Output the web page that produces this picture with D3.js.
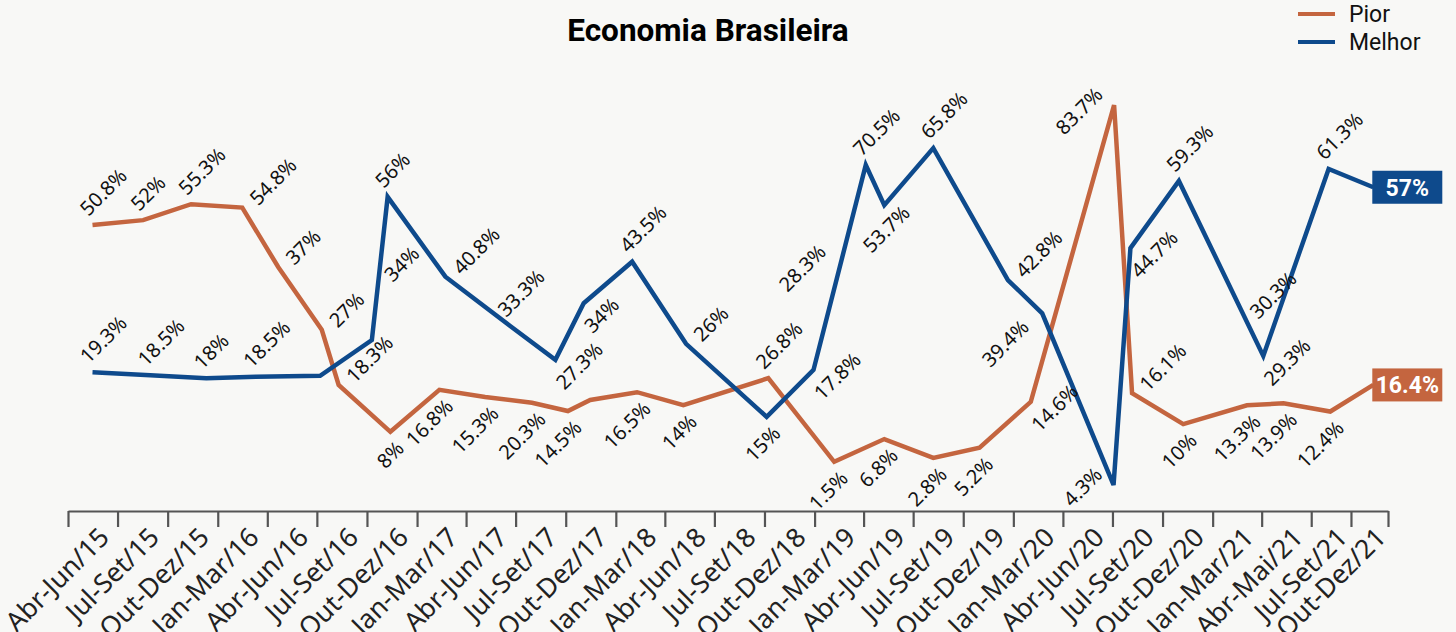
<!DOCTYPE html>
<html>
<head>
<meta charset="utf-8">
<script src="https://cdn.jsdelivr.net/npm/d3@7"></script>
<style>
  html, body { margin: 0; padding: 0; background: #f8f8f6; }
  svg { display: block; }
</style>
</head>
<body>
<div id="chart"></div>
<script>
// periods shown under the axis and the boundaries between them
var periods = ["Abr-Jun/15", "Jul-Set/15", "Out-Dez/15", "Jan-Mar/16", "Abr-Jun/16", "Jul-Set/16",
  "Out-Dez/16", "Jan-Mar/17", "Abr-Jun/17", "Jul-Set/17", "Out-Dez/17", "Jan-Mar/18", "Abr-Jun/18",
  "Jul-Set/18", "Out-Dez/18", "Jan-Mar/19", "Abr-Jun/19", "Jul-Set/19", "Out-Dez/19", "Jan-Mar/20",
  "Abr-Jun/20", "Jul-Set/20", "Out-Dez/20", "Jan-Mar/21", "Abr-Mai/21", "Jul-Set/21", "Out-Dez/21"];
var tickDates = ["2015-04-01", "2015-07-01", "2015-10-01", "2016-01-01", "2016-04-01", "2016-07-01",
  "2016-10-01", "2017-01-01", "2017-04-01", "2017-07-01", "2017-10-01", "2018-01-01", "2018-04-01",
  "2018-07-01", "2018-10-01", "2019-01-01", "2019-04-01", "2019-07-01", "2019-10-01", "2020-01-01",
  "2020-04-01", "2020-07-01", "2020-10-01", "2021-01-01", "2021-04-01", "2021-07-01", "2021-09-12",
  "2021-11-19"];

// Pior (worse)
var piorDates = ["2015-05-16", "2015-08-17", "2015-11-13", "2016-02-15", "2016-04-21", "2016-07-10",
  "2016-08-10", "2016-11-13", "2017-02-11", "2017-05-06", "2017-07-31", "2017-10-05", "2017-11-15",
  "2018-02-09", "2018-05-05", "2018-10-08", "2019-02-06", "2019-05-09", "2019-08-07", "2019-10-31",
  "2020-02-02", "2020-07-04", "2020-08-06", "2020-11-08", "2021-03-05", "2021-05-11", "2021-08-05",
  "2021-10-23"];
var piorValues = [50.7, 51.7, 55.0, 54.3, 42.0, 29.0, 17.6, 7.9, 16.6, 15.1, 13.9, 12.2, 14.5, 16.1,
  13.4, 19.0, 1.7, 6.4, 2.5, 4.6, 14.1, 75.5, 15.9, 9.5, 13.4, 13.8, 12.1, 17.6];
var piorLabelText = ["50.8%", "52%", "55.3%", "54.8%", "37%", "27%", "18.3%", "8%", "16.8%", "15.3%",
  "20.3%", "14.5%", "16.5%", "14%", "26.8%", "1.5%", "6.8%", "2.8%", "5.2%", "14.6%", "83.7%",
  "16.1%", "10%", "13.3%", "13.9%", "12.4%"];
var piorLabelPoint = [0, 1, 2, 3, 4, 5, 6, 7, 8, 9, 10, 11, 13, 14, 15, 16, 17, 18, 19, 20, 21, 22,
  23, 24, 25, 26];
var piorLabelSide = ["a", "a", "a", "r", "r", "r", "r", "b", "b", "b", "b", "b", "b", "b", "a", "b",
  "b", "b", "b", "d", "l", "r", "b", "b", "b", "b"];
var piorLast = "16.4%";

// Melhor (better)
var melhorDates = ["2015-05-16", "2015-08-30", "2015-12-11", "2016-03-11", "2016-07-07", "2016-10-10",
  "2016-11-08", "2017-02-22", "2017-06-21", "2017-09-12", "2017-11-03", "2018-01-31", "2018-05-10",
  "2018-10-05", "2018-12-30", "2019-04-05", "2019-05-09", "2019-08-07", "2019-12-22", "2020-02-23",
  "2020-07-03", "2020-08-03", "2020-10-31", "2021-04-04", "2021-08-02", "2021-10-23"];
var melhorValues = [20.2, 19.6, 19.0, 19.3, 19.5, 26.9, 56.5, 40.0, 29.8, 22.8, 34.5, 43.1, 26.1, 11.0,
  20.7, 63.1, 54.8, 66.6, 39.3, 32.4, -3.1, 45.9, 59.8, 23.6, 62.3, 58.5];
var melhorLabelText = ["19.3%", "18.5%", "18%", "18.5%", "34%", "56%", "40.8%", "33.3%", "27.3%", "34%",
  "43.5%", "26%", "15%", "17.8%", "28.3%", "70.5%", "53.7%", "65.8%", "42.8%", "39.4%", "4.3%",
  "44.7%", "59.3%", "30.3%", "29.3%", "61.3%"];
var melhorLabelPoint = [0, 1, 2, 3, 5, 6, 7, 8, 9, 10, 11, 12, 13, 14, 14, 15, 16, 17, 18, 19, 20, 21,
  22, 23, 23, 24];
var melhorLabelSide = ["a", "a", "a", "a", "u", "a", "r", "a", "d", "d", "a", "r", "b", "d", "v", "a",
  "e", "a", "r", "k", "l", "d", "a", "w", "d", "a"];
var melhorLast = "57%";

var colors = { pior: "#c4653f", melhor: "#0e4a8c" };

// label placement: text-anchor, dx, dy (text rotated -45deg)
var place = {
  a: ["start", -4, -8], r: ["start", 16, -1], d: ["start", 9, 31], b: ["end", 15, 18],
  e: ["end", 27, 9], l: ["end", -10, -9], k: ["end", -12, 15], u: ["start", 21, -57],
  v: ["start", -26, -77], w: ["start", -5, -36]
};

var W = 1456, H = 632;
var parse = d3.timeParse("%Y-%m-%d");

var svg = d3.select("#chart").append("svg")
  .attr("width", W).attr("height", H)
  .style("background", "#f8f8f6");

var x = d3.scaleTime()
  .domain([parse(tickDates[0]), parse(tickDates[tickDates.length - 1])])
  .range([68, 1388]);
var y = d3.scaleLinear().domain([0, 90]).range([470, 35]);

// title
svg.append("text")
  .attr("x", 708).attr("y", 41)
  .attr("text-anchor", "middle")
  .style("font-family", "Roboto")
  .style("font-weight", "bold")
  .style("font-size", "31.5px")
  .style("fill", "#000")
  .text("Economia Brasileira");

// legend
var legend = svg.append("g").attr("transform", "translate(1298,0)");
[["Pior", colors.pior], ["Melhor", colors.melhor]].forEach(function (d, i) {
  legend.append("line")
    .attr("x1", 0).attr("x2", 37)
    .attr("y1", 14 + i * 28).attr("y2", 14 + i * 28)
    .style("stroke", d[1]).style("stroke-width", 4);
  legend.append("text")
    .attr("x", 51).attr("y", 22 + i * 28)
    .style("font-family", "Roboto")
    .style("font-size", "23px")
    .style("fill", "#111")
    .text(d[0]);
});

// x axis
var axis = svg.append("g")
  .attr("transform", "translate(0,511)")
  .call(d3.axisBottom(x)
    .tickValues(tickDates.map(parse))
    .tickFormat("")
    .tickSize(16)
    .tickSizeOuter(0));
axis.select(".domain").style("stroke", "#555").style("stroke-width", 2.2);
axis.selectAll(".tick line").style("stroke", "#555").style("stroke-width", 2.2);

svg.append("g").selectAll("text")
  .data(periods)
  .enter()
  .append("text")
  .attr("transform", function (d, i) {
    var cx = (x(parse(tickDates[i])) + x(parse(tickDates[i + 1]))) / 2;
    return "translate(" + (cx + 18) + ",539) rotate(-45)";
  })
  .attr("text-anchor", "end")
  .style("font-family", "Noto Sans")
  .style("font-size", "26.5px")
  .style("fill", "#222")
  .text(function (d) { return d; });

// lines
var line = d3.line()
  .x(function (d) { return x(d.date); })
  .y(function (d) { return y(d.value); });

function series(dates, values) {
  return dates.map(function (d, i) { return { date: parse(d), value: values[i] }; });
}

var pior = series(piorDates, piorValues);
var melhor = series(melhorDates, melhorValues);

[[pior, colors.pior], [melhor, colors.melhor]].forEach(function (s) {
  svg.append("path")
    .datum(s[0])
    .attr("d", line)
    .style("fill", "none")
    .style("stroke", s[1])
    .style("stroke-width", 4.5)
    .style("stroke-linejoin", "miter");
});

// point labels
function drawLabels(data, texts, points, sides) {
  svg.append("g").selectAll("text")
    .data(texts)
    .enter()
    .append("text")
    .attr("transform", function (d, i) {
      var p = data[points[i]], s = place[sides[i]];
      return "translate(" + (x(p.date) + s[1]) + "," + (y(p.value) + s[2]) + ") rotate(-45)";
    })
    .attr("text-anchor", function (d, i) { return place[sides[i]][0]; })
    .style("font-family", "Noto Sans")
    .style("font-size", "20px")
    .style("fill", "#111")
    .text(function (d) { return d; });
}
drawLabels(pior, piorLabelText, piorLabelPoint, piorLabelSide);
drawLabels(melhor, melhorLabelText, melhorLabelPoint, melhorLabelSide);

// end value boxes
[[pior, piorLast, colors.pior], [melhor, melhorLast, colors.melhor]].forEach(function (s) {
  var p = s[0][s[0].length - 1];
  var g = svg.append("g")
    .attr("transform", "translate(" + (x(p.date) - 1) + "," + y(p.value) + ")");
  g.append("rect")
    .attr("x", 0).attr("y", -16.5)
    .attr("width", 70).attr("height", 33)
    .style("fill", s[2]);
  g.append("text")
    .attr("x", 35).attr("y", 0).attr("dy", "0.36em")
    .attr("text-anchor", "middle")
    .style("font-family", "Roboto")
    .style("font-weight", "bold")
    .style("font-size", "23px")
    .style("fill", "#fff")
    .text(s[1]);
});
</script>
</body>
</html>
